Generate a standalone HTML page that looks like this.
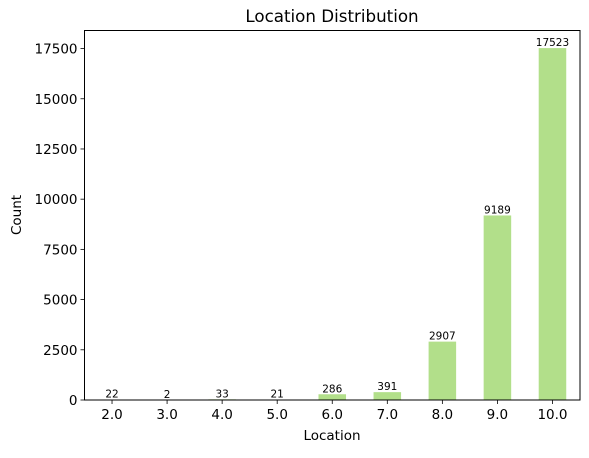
<!DOCTYPE html>
<html><head><meta charset="utf-8"><style>
body{margin:0;background:#fff;font-family:"Liberation Sans","DejaVu Sans",sans-serif}
svg text{font-family:"DejaVu Sans","Liberation Sans",sans-serif}
</style></head><body>
<svg id="chart" width="589" height="453" xmlns="http://www.w3.org/2000/svg">
<rect width="589" height="453" fill="#fff"/>
<g id="bars"></g>
<g id="axes"></g>
<text x="332" y="22" font-size="16.7" text-anchor="middle">Location Distribution</text>
<text x="332" y="440" font-size="13.5" text-anchor="middle">Location</text>
<text x="21" y="215" font-size="13.5" text-anchor="middle" transform="rotate(-90 21 215)">Count</text>
</svg>
<script>
const categories=["2.0","3.0","4.0","5.0","6.0","7.0","8.0","9.0","10.0"];
const counts=[22,2,33,21,286,391,2907,9189,17523];
const yTicks=[0,2500,5000,7500,10000,12500,15000,17500];
const L=84.5,R=580,T=30.5,B=400;
const ymax=Math.max(...counts)*1.05;
const y=v=>B-(v/ymax)*(B-T);
const step=(R-L)/categories.length;
const x=i=>L+step*(i+0.5);
const NS="http://www.w3.org/2000/svg";
function mk(t,a){const e=document.createElementNS(NS,t);for(const k in a)e.setAttribute(k,a[k]);return e;}
const bars=document.getElementById('bars'),axes=document.getElementById('axes');
counts.forEach((v,i)=>{
 const w=step*0.5;
 const r=mk('rect',{x:x(i)-w/2,y:y(v),width:w,height:B-y(v),fill:'#b2df8a'});
 
 
 bars.appendChild(r);
 const t=mk('text',{x:x(i),y:y(v)-2,'font-size':'10.5','text-anchor':'middle'});
 t.textContent=v;
 
 
 bars.appendChild(t);
 const tk=mk('line',{x1:x(i),x2:x(i),y1:B,y2:B+4,stroke:'#000','stroke-width':0.8});
 
 
 axes.appendChild(tk);
 const tl=mk('text',{x:x(i),y:B+19,'font-size':'13.5','text-anchor':'middle'});
 tl.textContent=categories[i];
 
 
 axes.appendChild(tl);
});
yTicks.forEach(v=>{
 const tk=mk('line',{x1:L-4,x2:L,y1:y(v),y2:y(v),stroke:'#000','stroke-width':0.8});
 
 
 axes.appendChild(tk);
 const tl=mk('text',{x:L-7,y:y(v)+5,'font-size':'13.5','text-anchor':'end'});
 tl.textContent=v;
 
 
 axes.appendChild(tl);
});
const frame=mk('rect',{x:L,y:T,width:R-L,height:B-T,fill:'none',stroke:'#000','stroke-width':1});


axes.appendChild(frame);
</script>
</body></html>
